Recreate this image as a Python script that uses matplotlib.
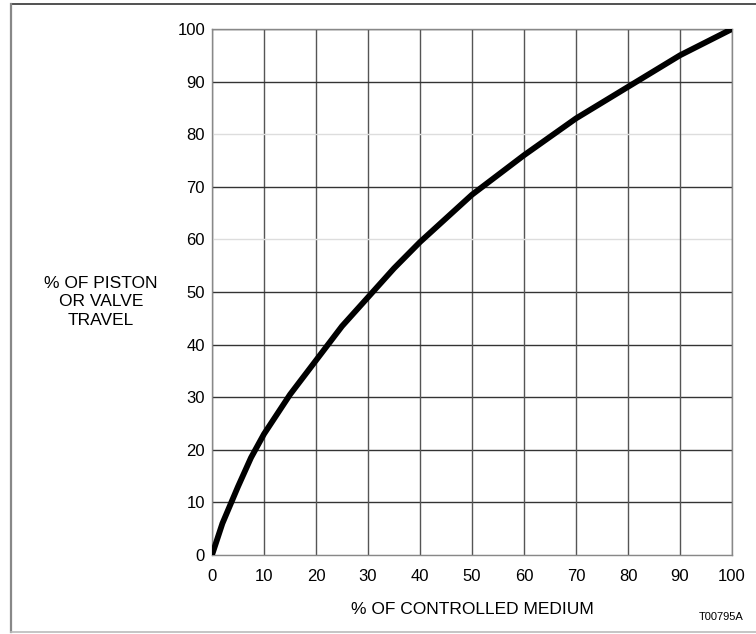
import matplotlib.pyplot as plt
from matplotlib.lines import Line2D

# % of controlled medium vs % of piston / valve travel
medium = [0, 2, 5, 7.5, 10, 15, 20, 25, 30, 35, 40, 45, 50, 60, 70, 80, 90, 100]
travel = [0, 6, 13, 18.5, 23, 30.5, 37, 43.5, 49, 54.5, 59.5, 64, 68.5, 76, 83, 89, 95, 100]

ticks = [0, 10, 20, 30, 40, 50, 60, 70, 80, 90, 100]
light_rows = [0, 60, 80]

plt.rcParams['font.family'] = ['Liberation Sans', 'DejaVu Sans']

W, H = 756, 634
fig = plt.figure(figsize=(W / 100, H / 100), dpi=100)

# page frame: top, left and bottom edges only
fig.lines.append(Line2D([11 / W, 1], [1 - 4 / H, 1 - 4 / H], transform=fig.transFigure,
                        color='#333333', lw=1.2))
fig.lines.append(Line2D([11 / W, 11 / W], [1 - 4 / H, 1 - 632 / H], transform=fig.transFigure,
                        color='#888888', lw=1.6))
fig.lines.append(Line2D([11 / W, 1], [1 - 632 / H, 1 - 632 / H], transform=fig.transFigure,
                        color='#bbbbbb', lw=1.2))

ax = fig.add_axes([212 / W, 1 - 555 / H, 520 / W, 526 / H])
ax.set_xlim(0, 100)
ax.set_ylim(0, 100)

for t in ticks:
    ax.axvline(t, color='#555555', lw=1.0, zorder=1)
    c = '#dddddd' if t in light_rows else '#333333'
    ax.axhline(t, color=c, lw=1.0, zorder=1)

ax.plot(medium, travel, color='black', lw=4.2, solid_capstyle='butt',
        solid_joinstyle='round', zorder=3)

ax.set_xticks(ticks)
ax.set_yticks(ticks)
ax.tick_params(length=0, labelsize=12)
ax.tick_params(axis='x', pad=10)
ax.tick_params(axis='y', pad=5)
for s in ax.spines.values():
    s.set_color('#888888')
    s.set_linewidth(1.0)

fig.text(101 / W, 1 - 302 / H, "% OF PISTON\nOR VALVE\nTRAVEL",
         ha='center', va='center', fontsize=12.5, linespacing=1.3)
fig.text(472 / W, 1 - 610 / H, "% OF CONTROLLED MEDIUM",
         ha='center', va='center', fontsize=12.5)
fig.text(721 / W, 1 - 617 / H, "T00795A",
         ha='center', va='center', fontsize=8)

fig.savefig('out.png', dpi=100)
